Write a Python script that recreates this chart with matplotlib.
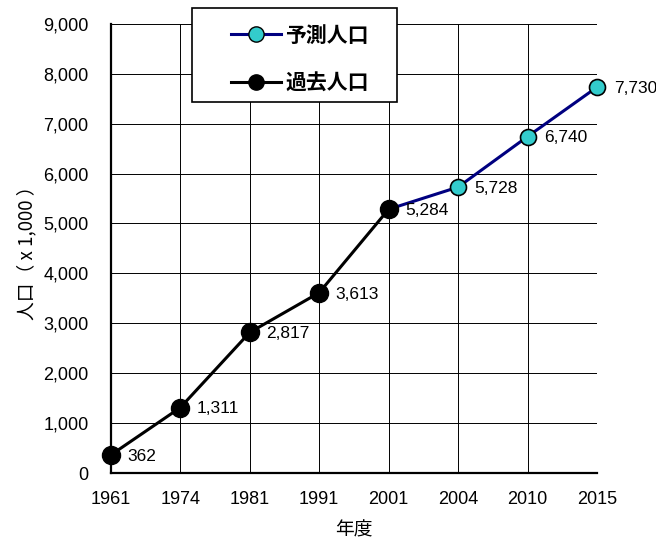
import matplotlib
matplotlib.use("Agg")
import matplotlib.pyplot as plt
from matplotlib.lines import Line2D
from matplotlib.patches import Rectangle
from matplotlib.ticker import FuncFormatter

plt.rcParams['font.family'] = ['Noto Sans CJK JP', 'DejaVu Sans']

years = ["1961", "1974", "1981", "1991", "2001", "2004", "2010", "2015"]
past_years = ["1961", "1974", "1981", "1991", "2001"]
past_pop = [362, 1311, 2817, 3613, 5284]
proj_years = ["2001", "2004", "2010", "2015"]
proj_pop = [5284, 5728, 6740, 7730]

xpos = {y: i for i, y in enumerate(years)}

W, H = 656, 540
fig = plt.figure(figsize=(W / 100, H / 100), dpi=100)
ax = fig.add_axes([0.169, 0.124, 0.741, 0.832])

px = [xpos[y] for y in past_years]
fx = [xpos[y] for y in proj_years]

ax.plot(fx, proj_pop, color='#000080', lw=2.2, marker='o', ms=11.5,
        markerfacecolor='#33CCCC', markeredgecolor='black', markeredgewidth=1.2,
        zorder=3, clip_on=False)
ax.plot(px, past_pop, color='black', lw=2.2, marker='o', ms=13,
        markerfacecolor='black', markeredgecolor='black',
        zorder=4, clip_on=False)

tick_font = ['Liberation Sans', 'DejaVu Sans']
for x, v in zip(px, past_pop):
    ax.annotate(f"{v:,}", (x, v), xytext=(12, -1), textcoords='offset points',
                fontsize=12.5, va='center', ha='left', family=tick_font, zorder=5)
for x, v in zip(fx[1:], proj_pop[1:]):
    ax.annotate(f"{v:,}", (x, v), xytext=(12, -1), textcoords='offset points',
                fontsize=12.5, va='center', ha='left', family=tick_font, zorder=5)

ax.set_xlim(0, len(years) - 1)
ax.set_ylim(0, 9000)
ax.set_xticks(range(len(years)))
ax.set_xticklabels(years, family=tick_font, fontsize=13)
ax.set_yticks(range(0, 9001, 1000))
ax.yaxis.set_major_formatter(FuncFormatter(lambda v, p: f"{int(v):,}"))
for lbl in ax.get_yticklabels():
    lbl.set_family(tick_font)
    lbl.set_fontsize(13)

ax.grid(True, color='black', lw=0.7)
ax.set_axisbelow(True)
ax.tick_params(axis='x', length=0, pad=13)
ax.tick_params(axis='y', length=0, pad=16)
for s in ['top', 'right']:
    ax.spines[s].set_visible(False)
for s in ['left', 'bottom']:
    ax.spines[s].set_linewidth(1.6)

ax.set_xlabel("年度", fontsize=13.5, labelpad=8)
ax.set_ylabel("人口（ x 1,000 ）", fontsize=13.5, labelpad=4)

# legend box drawn in figure pixels
fig.add_artist(Rectangle((192 / W, 1 - 102 / H), (397 - 192) / W, (102 - 8) / H,
                         transform=fig.transFigure, facecolor='white',
                         edgecolor='black', lw=1.2, zorder=9))

handles = [
    Line2D([], [], color='#000080', lw=2.2, marker='o', ms=11,
           markerfacecolor='#33CCCC', markeredgecolor='black'),
    Line2D([], [], color='black', lw=2.2, marker='o', ms=11,
           markerfacecolor='black', markeredgecolor='black'),
]
leg = fig.legend(handles, ["予測人口", "過去人口"], loc='center left',
                 bbox_to_anchor=(231 / W, 1 - 59 / H), frameon=False,
                 prop={'size': 15, 'weight': 'bold'}, handlelength=2.4,
                 labelspacing=1.3, borderpad=0, handletextpad=0.2,
                 borderaxespad=0)
leg.set_zorder(10)

fig.savefig("out.png", dpi=100)
